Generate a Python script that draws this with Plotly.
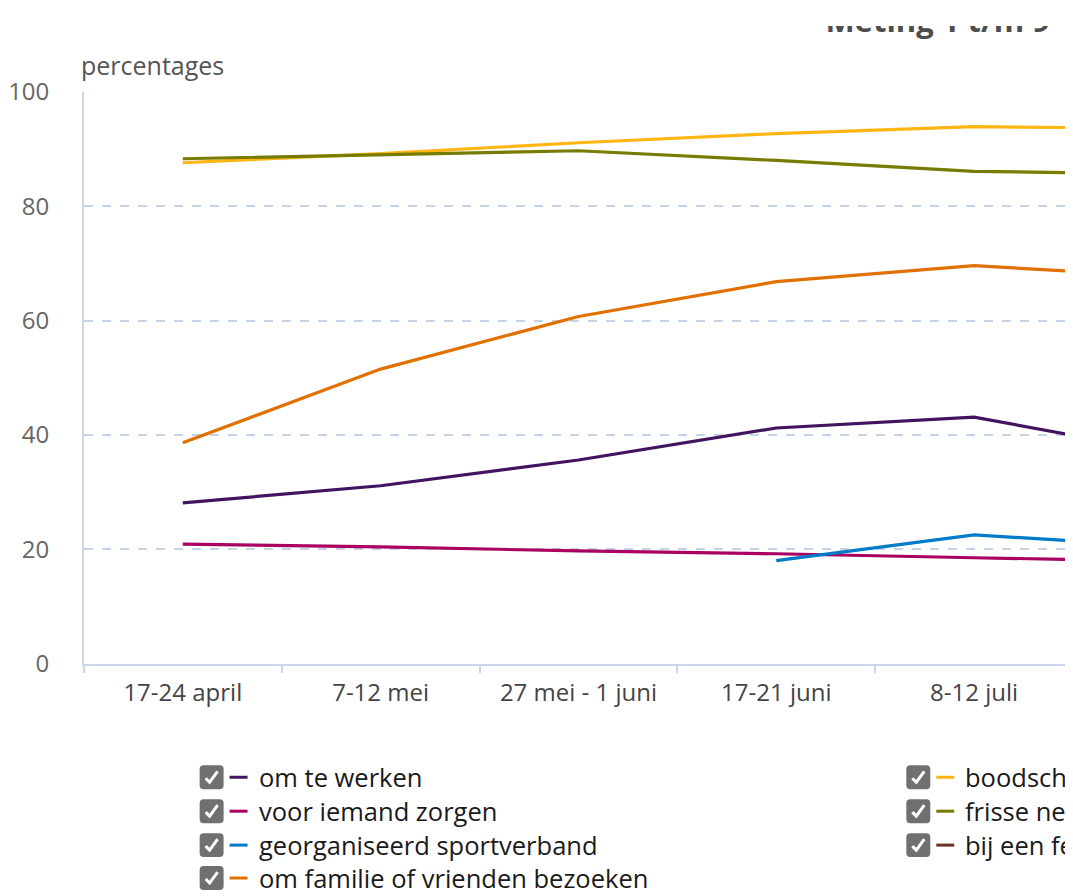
import plotly.graph_objects as go

# ---------------- data ----------------
categories = ["17-24 april", "7-12 mei", "27 mei - 1 juni", "17-21 juni", "8-12 juli", "29 juli - 2 aug"]
om_te_werken = [28.1, 31.1, 35.6, 41.2, 43.1, 36.7]
voor_iemand_zorgen = [20.9, 20.4, 19.7, 19.2, 18.5, 17.9]
georganiseerd_sportverband = [None, None, None, 18.0, 22.5, 20.4]
familie_vrienden = [38.6, 51.5, 60.7, 66.8, 69.6, 67.6]
boodschappen = [87.6, 89.2, 91.1, 92.7, 93.9, 93.6]
frisse_neus = [88.3, 89.0, 89.7, 88.0, 86.1, 85.6]
feestje = [None, None, None, None, None, None]

series_names = ["om te werken", "voor iemand zorgen", "georganiseerd sportverband",
                "om familie of vrienden bezoeken", "boodschappen doen",
                "frisse neus halen", "bij een feestje of bijeenkomst"]
series_values = [om_te_werken, voor_iemand_zorgen, georganiseerd_sportverband,
                 familie_vrienden, boodschappen, frisse_neus, feestje]
series_colors = ["#42145f", "#a90061", "#007bc7", "#e17000", "#ffb612", "#777c00", "#673327"]

y_ticks = [0, 20, 40, 60, 80, 100]
title_text = "Meting 1 t/m 9"
y_title = "percentages"

# ---------------- layout helpers ----------------
W, H = 1073, 896
FONT = "Open Sans"
OX, OY, HR = 8, 24, 865   # observed page offset / rendered paper height


def fx(px):
    return (px - OX) / W


def fy(py):
    return 1 - (py - OY) / HR


plot_left, plot_top, plot_bottom = 82, 90, 663
cat_w = 198.2
x_end = (W + OX - plot_left) / cat_w - 0.5

fig = go.Figure()

for name, vals, col in zip(series_names, series_values, series_colors):
    fig.add_trace(go.Scatter(
        x=categories, y=vals, name=name, mode="lines",
        line=dict(color=col, width=3.2), showlegend=False,
        xaxis="x", yaxis="y"))

# title as text in a clipped strip (top part clipped as in reference)
fig.add_trace(go.Scatter(
    x=[1050 - OX], y=[fy(38)], mode="text", text=[f"<b>{title_text}</b>"],
    textposition="top left", cliponaxis=True,
    textfont=dict(family=FONT, size=31, color="#4d4d4d"),
    showlegend=False, hoverinfo="skip", xaxis="x2", yaxis="y2"))

shapes = []
annotations = []

# custom legend (checkbox + dash + label)
legend_pos = [(198, 777), (198, 811), (198, 845), (198, 878),
              (906, 777), (906, 811), (906, 845)]
for (bx, cy), name, col in zip(legend_pos, series_names, series_colors):
    x0, x1 = bx, bx + 24
    y0, y1 = cy - 12, cy + 12
    r = 4
    path = (f"M {fx(x0 + r)},{fy(y0)} L {fx(x1 - r)},{fy(y0)} "
            f"Q {fx(x1)},{fy(y0)} {fx(x1)},{fy(y0 + r)} L {fx(x1)},{fy(y1 - r)} "
            f"Q {fx(x1)},{fy(y1)} {fx(x1 - r)},{fy(y1)} L {fx(x0 + r)},{fy(y1)} "
            f"Q {fx(x0)},{fy(y1)} {fx(x0)},{fy(y1 - r)} L {fx(x0)},{fy(y0 + r)} "
            f"Q {fx(x0)},{fy(y0)} {fx(x0 + r)},{fy(y0)} Z")
    shapes.append(dict(type="path", path=path, xref="paper", yref="paper",
                       fillcolor="#707070", line=dict(width=0), layer="above"))
    check = (f"M {fx(x0 + 6)},{fy(cy + 1)} L {fx(x0 + 10)},{fy(cy + 5)} "
             f"L {fx(x0 + 18)},{fy(cy - 6)}")
    shapes.append(dict(type="path", path=check, xref="paper", yref="paper",
                       line=dict(color="white", width=3), layer="above"))
    shapes.append(dict(type="line", xref="paper", yref="paper",
                       x0=fx(bx + 30), x1=fx(bx + 48), y0=fy(cy), y1=fy(cy),
                       line=dict(color=col, width=3), layer="above"))
    annotations.append(dict(text=name, xref="paper", yref="paper",
                            x=fx(bx + 57), y=fy(cy), xanchor="left", yanchor="middle",
                            showarrow=False,
                            font=dict(family=FONT, size=25.5, color="#1a1a1a")))

annotations.append(dict(text=y_title, xref="paper", yref="paper",
                        x=fx(77), y=fy(63), xanchor="left", yanchor="middle",
                        showarrow=False, font=dict(family=FONT, size=25, color="#555555")))

fig.update_layout(
    width=W, height=H,
    margin=dict(l=0, r=0, t=0, b=0),
    paper_bgcolor="white", plot_bgcolor="white",
    font=dict(family=FONT),
    xaxis=dict(
        type="category", categoryorder="array", categoryarray=categories,
        domain=[fx(plot_left), 1.0], range=[-0.5, x_end],
        tickson="boundaries", ticks="outside", ticklen=8, tickcolor="#ccd6eb",
        tickwidth=1.5, ticklabelstandoff=7,
        showline=True, linecolor="#ccd6eb", linewidth=1.5,
        showgrid=False, zeroline=False,
        tickfont=dict(family=FONT, size=24, color="#444444"),
        anchor="y", fixedrange=True),
    yaxis=dict(
        domain=[fy(plot_bottom), fy(plot_top)], range=[0, 100],
        tickvals=y_ticks, ticks="outside", ticklen=28, tickcolor="rgba(0,0,0,0)",
        showline=True, linecolor="#ccd6eb", linewidth=1.5,
        showgrid=True, gridcolor="#c6d2e6", griddash="dash", gridwidth=1.6,
        zeroline=False,
        tickfont=dict(family=FONT, size=24, color="#666666"),
        anchor="x", fixedrange=True),
    xaxis2=dict(domain=[0, 1], range=[0, W], visible=False, anchor="y2", fixedrange=True),
    yaxis2=dict(domain=[fy(52), 1.0], range=[fy(52), 1.0], visible=False,
                anchor="x2", fixedrange=True),
    shapes=shapes,
    annotations=annotations,
    showlegend=False,
)

fig.write_html("out.html")
